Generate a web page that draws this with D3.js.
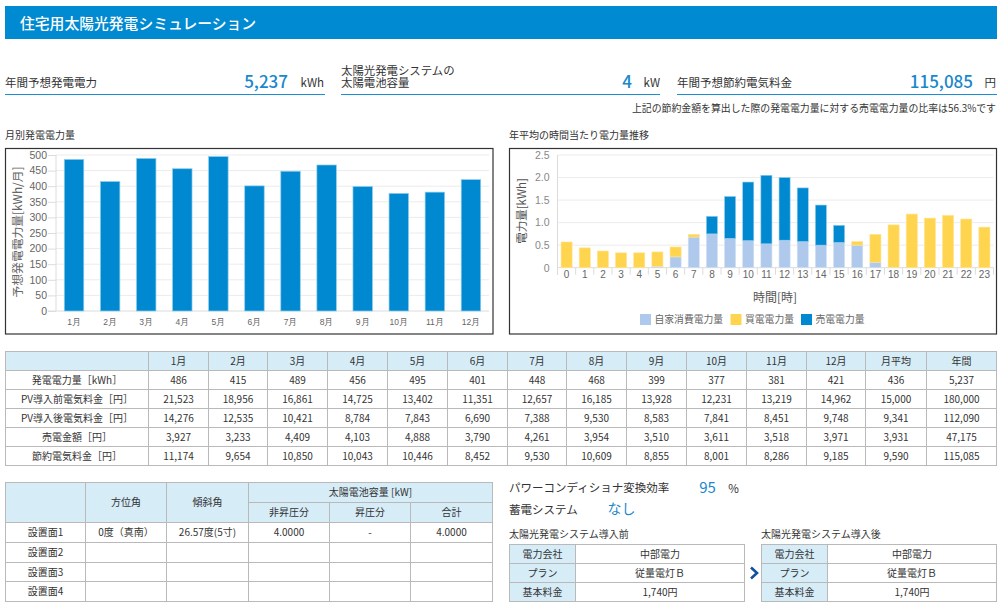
<!DOCTYPE html>
<html lang="ja">
<head>
<meta charset="utf-8">
<title>住宅用太陽光発電シミュレーション</title>
<script src="https://cdn.jsdelivr.net/npm/d3@7"></script>
<style>
  html, body { margin: 0; padding: 0; background: #fff; overflow: hidden; }
  svg { display: block; font-family: "Noto Sans CJK JP", "Noto Sans", sans-serif; }
  text { fill: #333; }
  .grid line { stroke: #ececec; }
  .axis path, .axis line { stroke: #dcdcdc; }
  .axis text { fill: #666; }
</style>
</head>
<body>
<svg id="page" width="1000" height="607"></svg>
<script>
// ---- data ----
const months = ["1月","2月","3月","4月","5月","6月","7月","8月","9月","10月","11月","12月"];
const summaryCols = ["月平均","年間"];
const generation = [486,415,489,456,495,401,448,468,399,377,381,421,436,5237];
const costBefore = [21523,18956,16861,14725,13402,11351,12657,16185,13928,12231,13219,14962,15000,180000];
const costAfter = [14276,12535,10421,8784,7843,6690,7388,9530,8583,7841,8451,9748,9341,112090];
const soldAmount = [3927,3233,4409,4103,4888,3790,4261,3954,3510,3611,3518,3971,3931,47175];
const savedAmount = [11174,9654,10850,10043,10446,8452,9530,10609,8855,8001,8286,9185,9590,115085];
const rowLabels = ["発電電力量［kWh］","PV導入前電気料金［円］","PV導入後電気料金［円］","売電金額［円］","節約電気料金［円］"];

const hours = d3.range(0, 24);
const selfUse = [0,0,0,0,0,0.03,0.24,0.68,0.75,0.65,0.60,0.53,0.61,0.58,0.50,0.56,0.50,0.12,0.01,0,0,0,0,0];
const bought = [0.57,0.44,0.37,0.33,0.33,0.32,0.22,0.06,0,0,0,0,0,0,0,0,0.08,0.62,0.94,1.19,1.10,1.16,1.08,0.90];
const sold = [0,0,0,0,0,0,0,0,0.39,0.93,1.30,1.52,1.39,1.19,0.89,0.38,0,0,0,0,0,0,0,0];
const seriesNames = ["自家消費電力量","買電電力量","売電電力量"];

const monthlyTicks = [0,50,100,150,200,250,300,350,400,450,500];
const hourlyTicks = [0,0.5,1,1.5,2,2.5];

const panelNames = ["設置面1","設置面2","設置面3","設置面4"];
const panelRow1 = ["0度（真南）","26.57度(5寸)","4.0000","-","4.0000"];
const planLabels = ["電力会社","プラン","基本料金"];
const planValues = ["中部電力","従量電灯Ｂ","1,740円"];

const BLUE = "#0089d0", BLUE_TEXT = "#1a87cc", YELLOW = "#ffd54f", PALE = "#aec9ec";
const HEAD = "#d6ecf7", RULE = "#b9b9b9";

const svg = d3.select("#page");

function label(x, y, str, size, anchor, color, weight) {
  return svg.append("text")
    .attr("x", x).attr("y", y - 0.7)
    .attr("dominant-baseline", "central")
    .attr("text-anchor", anchor || "start")
    .attr("font-size", size)
    .attr("font-weight", weight || 400)
    .style("fill", color || "#333")
    .text(str);
}

// ---- header and summary ----
svg.append("rect").attr("x", 5).attr("y", 6).attr("width", 992).attr("height", 33).attr("fill", "#008ad1");
label(20, 23, "住宅用太陽光発電シミュレーション", 14.8, "start", "#fff", 500);

function summaryLine(x1, x2) {
  svg.append("line").attr("x1", x1).attr("x2", x2).attr("y1", 94.5).attr("y2", 94.5)
    .attr("stroke", "#1a8fd3").attr("stroke-width", 1.2);
}
summaryLine(5, 325);
summaryLine(341, 660);
summaryLine(677, 997);

label(5, 83, "年間予想発電電力", 11.5);
label(288, 81, "5,237", 17, "end", BLUE_TEXT, 500);
label(324, 83, "kWh", 11.5, "end");
// two line label, one text element
const wrapped = svg.append("text").attr("font-size", 11.4);
wrapped.append("tspan").attr("x", 341).attr("y", 74.5).text("太陽光発電システムの");
wrapped.append("tspan").attr("x", 341).attr("y", 87).text("太陽電池容量");
label(632, 81, "4", 17, "end", BLUE_TEXT, 500);
label(660, 83, "kW", 11.5, "end");
label(677, 83, "年間予想節約電気料金", 11.5);
label(973, 81, "115,085", 17, "end", BLUE_TEXT, 500);
label(996, 83, "円", 11.5, "end");
label(996, 108.5, "上記の節約金額を算出した際の発電電力量に対する売電電力量の比率は56.3%です", 9.9, "end");

label(5, 135, "月別発電電力量", 10);
label(509, 135, "年平均の時間当たり電力量推移", 10);

// ---- monthly chart ----
svg.append("rect").attr("x", 5.5).attr("y", 148.5).attr("width", 487.5).attr("height", 185.5)
  .attr("fill", "none").attr("stroke", "#333").attr("stroke-width", 1.2);

const xMonth = d3.scaleBand().domain(months).range([56, 489]).paddingInner(0.46).paddingOuter(0.23);
const yMonth = d3.scaleLinear().domain([0, 500]).range([311, 155]);

svg.append("g").attr("class", "grid").selectAll("line").data(monthlyTicks.slice(1)).join("line")
  .attr("x1", 56).attr("x2", 489)
  .attr("y1", d => yMonth(d)).attr("y2", d => yMonth(d));

const monthAxisY = svg.append("g").attr("class", "axis").attr("transform", "translate(56,0)")
  .call(d3.axisLeft(yMonth).tickValues(monthlyTicks).tickSize(8).tickPadding(1));
monthAxisY.selectAll("text").attr("font-size", 10.5);
monthAxisY.select(".domain").attr("d", "M0,155V311");

const monthAxisX = svg.append("g").attr("class", "axis").attr("transform", "translate(0,311)")
  .call(d3.axisBottom(xMonth).tickSize(0).tickPadding(8));
monthAxisX.selectAll("text").attr("font-size", 8.5);
monthAxisX.select(".domain").attr("d", "M48,0H489");

svg.append("g").selectAll("rect").data(months).join("rect")
  .attr("x", d => xMonth(d))
  .attr("y", (d, i) => yMonth(generation[i]))
  .attr("width", xMonth.bandwidth())
  .attr("height", (d, i) => yMonth(0) - yMonth(generation[i]))
  .attr("fill", BLUE)
  .attr("stroke", "#8fcdec").attr("stroke-width", 0.7);

svg.append("text")
  .attr("transform", "translate(16.5,232) rotate(-90)")
  .attr("text-anchor", "middle").attr("dominant-baseline", "central")
  .attr("font-size", 11.8).style("fill", "#666")
  .text("予想発電電力量[kWh/月]");

// ---- hourly chart ----
svg.append("rect").attr("x", 509.5).attr("y", 148.5).attr("width", 487).attr("height", 185.5)
  .attr("fill", "none").attr("stroke", "#333").attr("stroke-width", 1.2);

const xHour = d3.scaleBand().domain(hours).range([557.5, 993.5]).paddingInner(0.39).paddingOuter(0.195);
const yHour = d3.scaleLinear().domain([0, 2.5]).range([267.7, 155]);

svg.append("g").attr("class", "grid").selectAll("line").data(hourlyTicks.slice(1)).join("line")
  .attr("x1", 557.5).attr("x2", 993.5)
  .attr("y1", d => yHour(d)).attr("y2", d => yHour(d));

const hourAxisY = svg.append("g").attr("class", "axis").attr("transform", "translate(557.5,0)")
  .call(d3.axisLeft(yHour).tickValues(hourlyTicks).tickFormat(d => d === 0 ? "0" : d3.format(".1f")(d)).tickSize(0).tickPadding(8));
hourAxisY.selectAll("text").attr("font-size", 10.5).style("fill", "#888");
hourAxisY.select(".domain").attr("d", "M0,155V275");

const hourAxisX = svg.append("g").attr("class", "axis").attr("transform", "translate(0,267.7)")
  .call(d3.axisBottom(xHour).tickSize(0).tickPadding(3.5));
hourAxisX.selectAll("text").attr("font-size", 10);
hourAxisX.select(".domain").attr("d", "M557.5,0H993.5");

// tick marks sit on the band edges, not under the labels
hourAxisX.append("g").selectAll("line").data(hours).join("line")
  .attr("x1", d => xHour(d) + xHour.bandwidth() + xHour.step() * 0.195)
  .attr("x2", d => xHour(d) + xHour.bandwidth() + xHour.step() * 0.195)
  .attr("y1", 0).attr("y2", 7);

const hourRows = hours.map((h, i) => ({ hour: h, self: selfUse[i], buy: bought[i], sell: sold[i] }));
const stacked = d3.stack().keys(["self", "buy", "sell"])(hourRows);
const seriesColor = d3.scaleOrdinal().domain(["self", "buy", "sell"]).range([PALE, YELLOW, BLUE]);
const seriesEdge = d3.scaleOrdinal().domain(["self", "buy", "sell"]).range(["#d3e1f5", "#ffe596", "#8fcdec"]);

svg.append("g").selectAll("g").data(stacked).join("g")
  .attr("fill", d => seriesColor(d.key))
  .attr("stroke", d => seriesEdge(d.key))
  .attr("stroke-width", 0.6)
  .selectAll("rect").data(d => d.filter(p => p[1] > p[0])).join("rect")
  .attr("x", d => xHour(d.data.hour))
  .attr("y", d => yHour(d[1]))
  .attr("width", xHour.bandwidth())
  .attr("height", d => yHour(d[0]) - yHour(d[1]));

label(775, 297, "時間[時]", 12, "middle", "#555");
svg.append("text")
  .attr("transform", "translate(520.5,211) rotate(-90)")
  .attr("text-anchor", "middle").attr("dominant-baseline", "central")
  .attr("font-size", 11.5).style("fill", "#555")
  .text("電力量[kWh]");

const legendX = d3.scaleOrdinal().domain(seriesNames).range([640, 730.5, 801]);
const legendColor = d3.scaleOrdinal().domain(seriesNames).range([PALE, YELLOW, BLUE]);
const legend = svg.append("g").selectAll("g").data(seriesNames).join("g")
  .attr("transform", d => `translate(${legendX(d)},314)`);
legend.append("rect").attr("width", 11).attr("height", 11).attr("fill", d => legendColor(d));
legend.append("text").attr("x", 14.5).attr("y", 5)
  .attr("dominant-baseline", "central").attr("font-size", 9.8)
  .style("fill", "#666").text(d => d);

// ---- tables ----
// cells: {c0, c1, r0, r1, text, head}; xs and ys are the rule positions
function drawTable(xs, ys, cells) {
  const g = svg.append("g");
  const cell = g.selectAll("g").data(cells).join("g");
  cell.append("rect")
    .attr("x", d => xs[d.c0]).attr("y", d => ys[d.r0])
    .attr("width", d => xs[d.c1] - xs[d.c0])
    .attr("height", d => ys[d.r1] - ys[d.r0])
    .attr("fill", d => d.head ? HEAD : "#fff")
    .attr("stroke", RULE).attr("stroke-width", 1);
  cell.append("text")
    .attr("x", d => (xs[d.c0] + xs[d.c1]) / 2)
    .attr("y", d => (ys[d.r0] + ys[d.r1]) / 2 - 0.7)
    .attr("text-anchor", "middle").attr("dominant-baseline", "central")
    .attr("font-size", 10)
    .text(d => d.text || "");
}
const fmt = d3.format(",");

// monthly results table
const resultCols = months.concat(summaryCols);
const resultRows = [generation, costBefore, costAfter, soldAmount, savedAmount];
const resultCells = [{ c0: 0, c1: 1, r0: 0, r1: 1, head: true }];
resultCols.forEach((name, i) => resultCells.push({ c0: i + 1, c1: i + 2, r0: 0, r1: 1, head: true, text: name }));
resultRows.forEach((row, r) => {
  resultCells.push({ c0: 0, c1: 1, r0: r + 1, r1: r + 2, text: rowLabels[r] });
  row.forEach((v, i) => resultCells.push({ c0: i + 1, c1: i + 2, r0: r + 1, r1: r + 2, text: fmt(v) }));
});
drawTable(
  [5.5,148.5,208.5,267.5,327.5,387.5,447.5,507.5,566.5,626.5,686.5,746.5,806.5,865.5,926.5,996.5],
  [351.5,370.5,389.5,408.5,427.5,446.5,465.5],
  resultCells
);

// panel table
const panelCells = [
  { c0: 0, c1: 1, r0: 0, r1: 2, head: true },
  { c0: 1, c1: 2, r0: 0, r1: 2, head: true, text: "方位角" },
  { c0: 2, c1: 3, r0: 0, r1: 2, head: true, text: "傾斜角" },
  { c0: 3, c1: 6, r0: 0, r1: 1, head: true, text: "太陽電池容量 [kW]" },
  { c0: 3, c1: 4, r0: 1, r1: 2, head: true, text: "非昇圧分" },
  { c0: 4, c1: 5, r0: 1, r1: 2, head: true, text: "昇圧分" },
  { c0: 5, c1: 6, r0: 1, r1: 2, head: true, text: "合計" }
];
panelNames.forEach((name, r) => {
  panelCells.push({ c0: 0, c1: 1, r0: r + 2, r1: r + 3, text: name });
  d3.range(5).forEach(i => panelCells.push({
    c0: i + 1, c1: i + 2, r0: r + 2, r1: r + 3, text: r === 0 ? panelRow1[i] : ""
  }));
});
drawTable([5.5,85.5,166.5,248.5,329.5,410.5,492.5], [482.5,502.5,522.5,542.5,562.5,581.5,601.5], panelCells);

// plan tables
function planCells() {
  const cells = [];
  planLabels.forEach((name, r) => {
    cells.push({ c0: 0, c1: 1, r0: r, r1: r + 1, head: true, text: name });
    cells.push({ c0: 1, c1: 2, r0: r, r1: r + 1, text: planValues[r] });
  });
  return cells;
}
drawTable([509.5,575.5,744.5], [544.5,563.5,582.5,601.5], planCells());
drawTable([761.5,827.5,996.5], [544.5,563.5,582.5,601.5], planCells());

svg.append("path").attr("d", "M751,567.5L757,573L751,578.5")
  .attr("fill", "none").attr("stroke", "#12509f").attr("stroke-width", 2.6);

// ---- settings text ----
label(509, 488, "パワーコンディショナ変換効率", 11.5);
label(707.5, 487.5, "95", 15, "middle", BLUE_TEXT);
label(733.5, 489, "%", 11.5, "middle");
label(509, 510, "蓄電システム", 11.5);
label(621.5, 509, "なし", 14, "middle", BLUE_TEXT);
label(509, 534, "太陽光発電システム導入前", 10);
label(761, 534, "太陽光発電システム導入後", 10);
</script>
</body>
</html>
